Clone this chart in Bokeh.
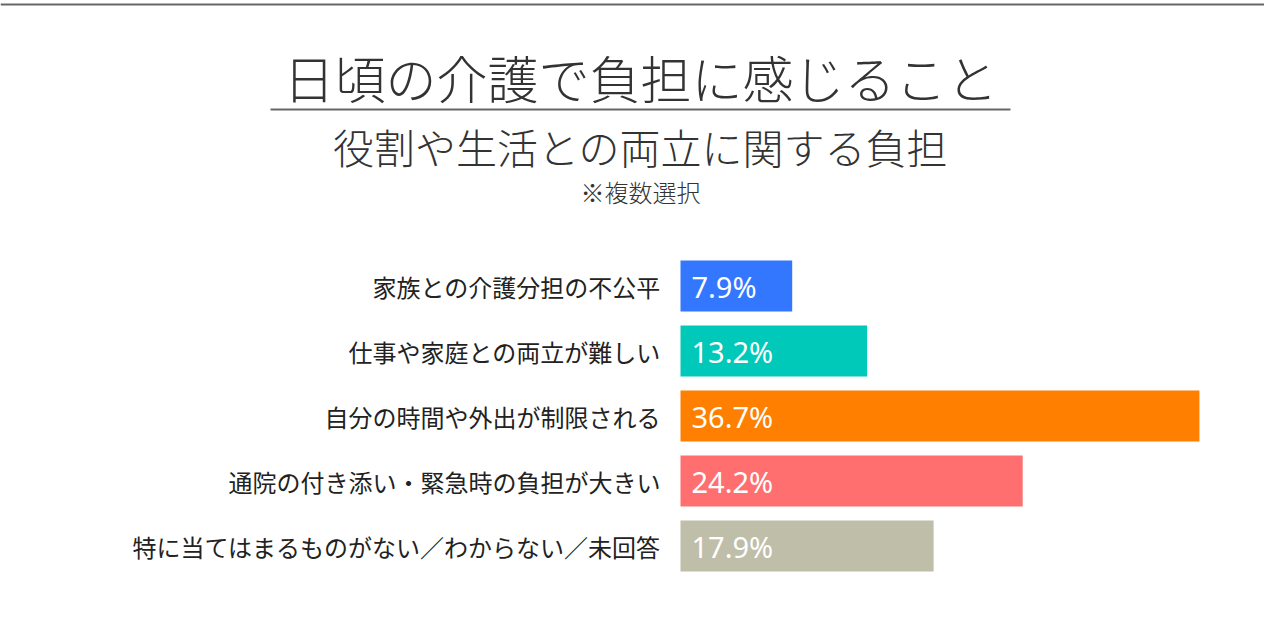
from bokeh.plotting import figure
from bokeh.models import Range1d, Span, ColumnDataSource
from bokeh.core.properties import value
from bokeh.embed import file_html
from bokeh.resources import INLINE

# data
labels = [
    "家族との介護分担の不公平",
    "仕事や家庭との両立が難しい",
    "自分の時間や外出が制限される",
    "通院の付き添い・緊急時の負担が大きい",
    "特に当てはまるものがない／わからない／未回答",
]
percents = [7.9, 13.2, 36.7, 24.2, 17.9]
colors = ["#3377ff", "#00c9ba", "#ff8000", "#ff6f6f", "#bfbea9"]

title_text = "日頃の介護で負担に感じること"
subtitle_text = "役割や生活との両立に関する負担"
note_text = "※複数選択"

W, H = 1264, 624
JP = "Noto Sans CJK JP"
JP_LIGHT = "'Noto Sans CJK JP Light', 'Noto Sans CJK JP DemiLight', 'Noto Sans CJK JP'"

# scale: 0% sits at x 680, 14.14 px per percent; rows 65 px apart
px_per_unit = 14.14
zero_px = 680
x0 = -zero_px / px_per_unit
x_range = Range1d(x0, x0 + W / px_per_unit)
row_px = 65.0
first_row = 285.5
y_range = Range1d((H - first_row) / row_px, -first_row / row_px)


def px_x(px):
    return (px - zero_px) / px_per_unit


def px_y(py):
    return (py - first_row) / row_px


rows = list(range(len(labels)))
src = ColumnDataSource(dict(
    row=rows,
    pct=percents,
    color=colors,
    label=labels,
    txt=["%.1f%%" % v for v in percents],
))

p = figure(width=W, height=H, x_range=x_range, y_range=y_range,
           output_backend="svg", toolbar_location=None, tools="",
           min_border=0, outline_line_color=None)
p.axis.visible = False
p.grid.visible = False
p.background_fill_color = "white"

# bars
p.hbar(y="row", left=0, right="pct", height=51 / row_px, color="color",
       line_color=None, source=src)

# value labels inside bars
p.text(x=px_x(691), y="row", text="txt", source=src, text_color="white",
       text_font=value("Noto Sans"), text_font_size="29px",
       text_baseline="middle", text_align="left")

# category labels
p.text(x=px_x(660), y="row", text="label", source=src, text_color="#222222",
       text_font=value(JP), text_font_size="24px",
       text_baseline="middle", text_align="right")

# header
p.add_layout(Span(location=px_y(4), dimension="width",
                  line_color="#666666", line_width=2))
p.text(x=[px_x(640)], y=[px_y(76)], text=[title_text], text_color="#333333",
       text_font=value(JP_LIGHT), text_font_size="51px",
       text_baseline="middle", text_align="center")
p.segment(x0=[px_x(270)], x1=[px_x(1010)], y0=[px_y(109)], y1=[px_y(109)],
          line_color="#666666", line_width=2)
p.text(x=[px_x(640)], y=[px_y(145)], text=[subtitle_text], text_color="#333333",
       text_font=value(JP_LIGHT), text_font_size="41px",
       text_baseline="middle", text_align="center")
p.text(x=[px_x(640)], y=[px_y(191)], text=[note_text], text_color="#333333",
       text_font=value(JP_LIGHT), text_font_size="24px",
       text_baseline="middle", text_align="center")

open("out.html", "w").write(file_html(p, INLINE))
